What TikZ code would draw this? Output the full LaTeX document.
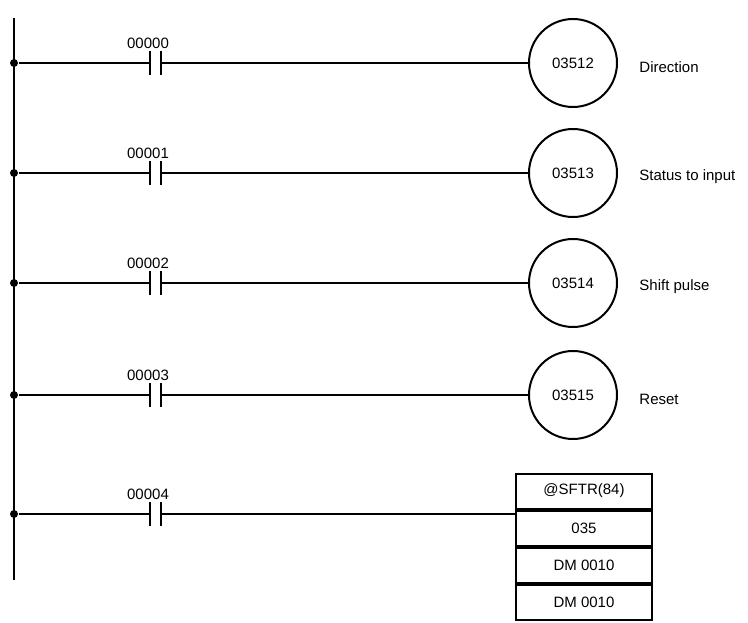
\documentclass[tikz,border=0pt]{standalone}
\usepackage{fontspec}
\setmainfont{Liberation Sans}
\begin{document}
\begin{tikzpicture}[x=1pt,y=-1pt,line width=2.2pt,
  every node/.style={font=\fontsize{15}{18}\selectfont},
  coil/.style={draw,circle,minimum size=88pt,inner sep=0pt,line width=2pt},
  cell/.style={draw,minimum width=136pt,minimum height=35pt,inner sep=0pt,line width=2pt},
  dot/.style={circle,fill,inner sep=0pt,minimum size=8pt}]
\useasboundingbox (0,0) rectangle (748,623);
\coordinate (top) at (14,18);
\coordinate (bot) at (14,580);
\draw (top) -- (bot);
\foreach \i/\y/\c/\o/\t in {0/63/00000/03512/Direction,1/173/00001/03513/Status to input,2/283/00002/03514/Shift pulse,3/395/00003/03515/Reset}{
  \node[dot] (d\i) at (14,\y) {};
  \coordinate (ca\i) at (150,\y);
  \coordinate (cb\i) at (161,\y);
  \node (lab\i) at (148,\y-20) {\c};
  \node[coil] (coil\i) at (573,\y) {\o};
  \node[anchor=west] (txt\i) at (635,\y+4) {\t};
  \draw (d\i) -- (ca\i);
  \draw (cb\i) -- (coil\i.west);
  \draw ([yshift=-12pt]ca\i) -- ([yshift=12pt]ca\i);
  \draw ([yshift=-12pt]cb\i) -- ([yshift=12pt]cb\i);
}
\node[dot] (d4) at (14,514) {};
\coordinate (ca4) at (150,514);
\coordinate (cb4) at (161,514);
\node (lab4) at (148,494) {00004};
\node[cell] (b1) at (584,491) {@SFTR(84)};
\node[cell,anchor=north] (b2) at (b1.south) {035};
\node[cell,anchor=north] (b3) at (b2.south) {DM 0010};
\node[cell,anchor=north] (b4) at (b3.south) {DM 0010};
\draw (d4) -- (ca4);
\draw (cb4) -- (cb4 -| b1.west);
\draw ([yshift=-12pt]ca4) -- ([yshift=12pt]ca4);
\draw ([yshift=-12pt]cb4) -- ([yshift=12pt]cb4);
\end{tikzpicture}
\end{document}
